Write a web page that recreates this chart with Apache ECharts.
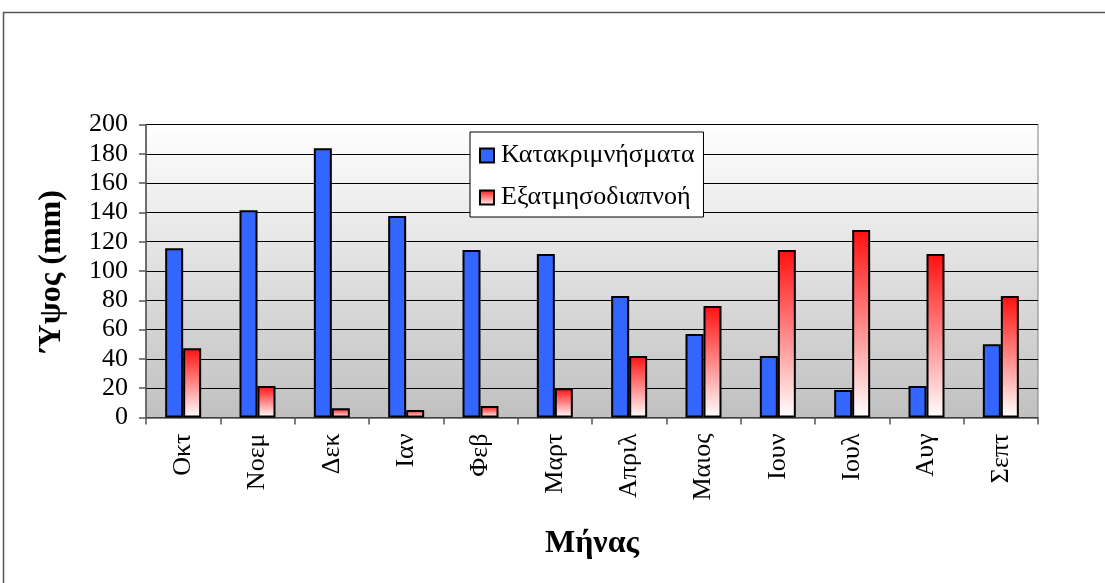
<!DOCTYPE html>
<html>
<head>
<meta charset="utf-8">
<script src="https://cdn.jsdelivr.net/npm/echarts@6/dist/echarts.min.js"></script>
<style>
  html, body { margin: 0; padding: 0; background: #fff; }
  #chart { width: 1105px; height: 583px; }
</style>
</head>
<body>
<div id="chart"></div>
<script>
// μήνες του υδρολογικού έτους
const months = ['Οκτ', 'Νοεμ', 'Δεκ', 'Ιαν', 'Φεβ', 'Μαρτ', 'Απριλ', 'Μαιος', 'Ιουν', 'Ιουλ', 'Αυγ', 'Σεπτ']
// κατακρημνίσματα (mm)
const precipitation = [115.5, 141.5, 183.8, 137.5, 114.3, 111.6, 82.9, 57, 42, 18.8, 21.5, 50]
// εξατμισοδιαπνοή (mm)
const evapotranspiration = [47.2, 21.5, 6.3, 5.1, 7.8, 19.9, 42, 76.1, 114.3, 128, 111.6, 83]

const serif = '"Liberation Serif", "DejaVu Serif", serif'

const chart = echarts.init(document.getElementById('chart'))

const options = {
    animation: false,
    // εξωτερικό πλαίσιο
    graphic: [{
        type: 'rect',
        shape: { x: 3.5, y: 12.5, width: 1300, height: 800 },
        style: { fill: 'none', stroke: '#555', lineWidth: 1.5 },
        silent: true
    }],
    grid: {
        left: 146,
        right: 67,
        top: 124.5,
        bottom: 165.5,
        show: true,
        borderColor: '#808080',
        borderWidth: 1,
        backgroundColor: new echarts.graphic.LinearGradient(0, 0, 0, 1, [
            { offset: 0, color: '#ffffff' },
            { offset: 1, color: '#c0c0c0' }
        ])
    },
    legend: {
        orient: 'vertical',
        left: 470,
        top: 132,
        padding: [10, 9, 6, 9],
        itemGap: 15,
        itemWidth: 14,
        itemHeight: 14,
        icon: 'rect',
        backgroundColor: '#fff',
        borderColor: '#000',
        borderWidth: 1,
        textStyle: { fontFamily: serif, fontSize: 26, lineHeight: 27, color: '#000', padding: [0, 0, 0, 2] },
        data: ['Κατακριμνήσματα', 'Εξατμησοδιαπνοή']
    },
    xAxis: {
        type: 'category',
        data: months,
        name: 'Μήνας',
        nameLocation: 'middle',
        nameGap: 110,
        nameTextStyle: { fontFamily: serif, fontSize: 32, fontWeight: 'bold', color: '#000' },
        axisLine: { lineStyle: { color: '#555', width: 1.5 } },
        axisTick: { show: true, inside: false, length: 7, lineStyle: { color: '#555', width: 1.5 } },
        axisLabel: {
            rotate: 90,
            margin: 16,
            fontFamily: serif,
            fontSize: 26,
            color: '#000'
        }
    },
    yAxis: {
        type: 'value',
        min: 0,
        max: 200,
        interval: 20,
        name: 'Ύψος (mm)',
        nameLocation: 'middle',
        nameGap: 78,
        nameTextStyle: { fontFamily: serif, fontSize: 32, fontWeight: 'bold', color: '#000' },
        axisLine: { show: true, lineStyle: { color: '#555', width: 1.5 } },
        axisTick: { show: true, inside: false, length: 7, lineStyle: { color: '#555', width: 1.5 } },
        axisLabel: { margin: 18, fontFamily: serif, fontSize: 26, color: '#000' },
        splitLine: { show: true, lineStyle: { color: '#000', width: 1 } }
    },
    series: [
        {
            name: 'Κατακριμνήσματα',
            type: 'bar',
            barWidth: 18,
            barGap: '0%',
            data: precipitation,
            itemStyle: { color: '#3366ff', borderColor: '#000', borderWidth: 2 }
        },
        {
            name: 'Εξατμησοδιαπνοή',
            type: 'bar',
            barWidth: 18,
            barGap: '0%',
            data: evapotranspiration,
            itemStyle: {
                color: new echarts.graphic.LinearGradient(0, 0, 0, 1, [
                    { offset: 0, color: '#ff1010' },
                    { offset: 1, color: '#ffffff' }
                ]),
                borderColor: '#000',
                borderWidth: 2
            }
        }
    ]
}

chart.setOption(options)
</script>
</body>
</html>
